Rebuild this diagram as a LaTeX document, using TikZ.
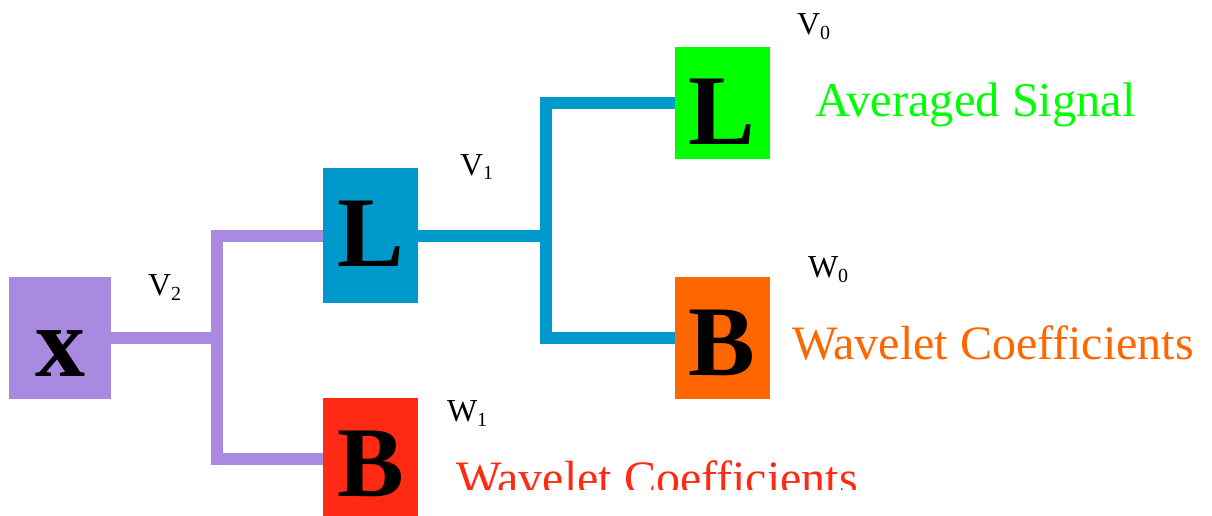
\documentclass[tikz,border=0pt]{standalone}
\usepackage{fontspec}
\setmainfont{Liberation Serif}
\usetikzlibrary{positioning}

\definecolor{lilac}{HTML}{A98AE0}
\definecolor{cyanblue}{HTML}{0099CC}
\definecolor{lowgreen}{HTML}{00FF00}
\definecolor{orangeB}{HTML}{FF6600}
\definecolor{redB}{HTML}{FF2A14}

% space name with a small lowered index
\newcommand{\band}[2]{#1\raisebox{-5pt}{\fontsize{20}{20}\selectfont #2}}

\begin{document}
\begin{tikzpicture}[x=1pt, y=-1pt,
      every node/.style={inner sep=0pt, outer sep=0pt},
      box/.style={minimum width=95pt, font=\fontsize{100}{100}\selectfont\bfseries},
      wire/.style={line width=12pt},
      tag/.style={anchor=base west, font=\fontsize{32}{32}\selectfont},
      result/.style={anchor=base west, font=\fontsize{48}{48}\selectfont},
  ]
    \useasboundingbox (0,0) rectangle (1212,516);

    % Column 1: input signal
    \node[box, fill=lilac, minimum width=102pt, minimum height=122pt,
          text height=76pt] (xin) at (60,338) {x};

    % Column 2: first level low / band pass
    \node[box, fill=cyanblue, minimum height=135pt, text height=61pt]
      (low1) at (370.5,235.5) {L};
    \node[box, fill=redB, minimum height=122pt, text height=76pt]
      (high1) at (370.5,459) {B};
    \coordinate (jv2) at (217,338);
    \draw[wire, lilac] (xin.east) -- (jv2);
    \draw[wire, lilac] (low1.west) -| (jv2) |- (high1.west);

    % Column 3: second level
    \node[box, fill=lowgreen, minimum height=112pt, text height=84pt]
      (low0) at (722,103) {L};
    \node[box, fill=orangeB, minimum height=122pt, text height=76pt]
      (high0) at (722,338) {B};
    \coordinate (jv1) at (546,235.5);
    \draw[wire, cyanblue] (low1.east) -- (jv1);
    \draw[wire, cyanblue] (low0.west) -| (jv1) |- (high0.west);

    % space labels
    \node[tag] (v2) at (148,295) {\band{V}{2}};
    \node[tag] (v1) at (460,175) {\band{V}{1}};
    \node[tag] (v0) at (797,35)  {\band{V}{0}};
    \node[tag] (w0) at (808,277) {\band{W}{0}};
    \node[tag] (w1) at (447,421) {\band{W}{1}};

    % outputs
    \node[result, text=lowgreen, font=\fontsize{48.5}{48.5}\selectfont]
      (avg) at (815,117) {Averaged Signal};
    \node[result, text=orangeB] (coef0) at (792,359) {Wavelet Coefficients};
    \begin{scope}
      \clip (0,0) rectangle (1212,489);
      \node[result, text=redB] (coef1) at (456,494) {Wavelet Coefficients};
    \end{scope}
  \end{tikzpicture}
\end{document}
